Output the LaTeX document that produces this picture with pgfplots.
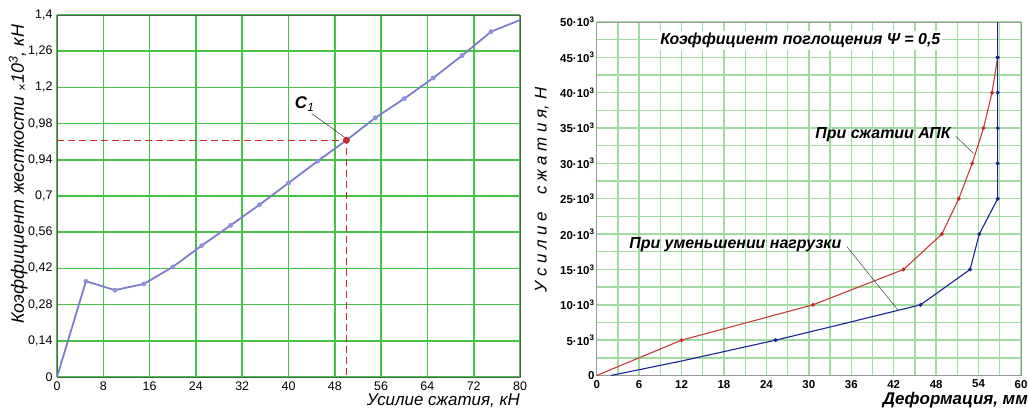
\documentclass[border=0pt]{standalone}
\usepackage{pgfplots}
\pgfplotsset{compat=1.18}
\usepackage{fontspec}
\setmainfont{Liberation Sans}
\definecolor{gridA}{RGB}{70,195,70}
\definecolor{gridB}{RGB}{160,220,160}
\definecolor{lav}{RGB}{125,125,205}
\definecolor{lavm}{RGB}{145,145,225}
\definecolor{redd}{RGB}{205,40,40}
\definecolor{rcurve}{RGB}{200,60,55}
\definecolor{bcurve}{RGB}{25,35,150}
\begin{document}
\begin{tikzpicture}[x=1bp,y=1bp]
% ---------------- left chart ----------------
\begin{axis}[
  at={(57bp,37bp)}, anchor=south west,
  scale only axis, width=463bp, height=362bp,
  xmin=0, xmax=80, ymin=0, ymax=10,
  xtick={0,8,...,80},
  ytick={0,1,...,10},
  yticklabels={0,{0,14},{0,28},{0,42},{0,56},{0,7},{0,94},{0,98},{1,2},{1,26},{1,4}},
  /pgf/number format/assume math mode=true,
  major tick length=0pt,
  grid=major,
  grid style={gridA, line width=1.6bp},
  major grid style={gridA, line width=1.6bp},
  axis line style={black!65, line width=0.8bp},
  ticklabel style={font=\fontsize{12.5}{12.5}\selectfont},
  xticklabel style={yshift=-1bp},
  yticklabel style={xshift=-1bp},
  xlabel={\textit{Усилие сжатия, кН}},
  xlabel style={at={(axis description cs:1,0)}, anchor=north east, inner sep=0pt, yshift=-17bp, font=\fontsize{17}{17}\selectfont},
  ylabel={\textit{Коэффициент жесткости \textsubscript{×}10\textsuperscript{3}, кН}},
  ylabel style={at={(axis description cs:-0.084,0.56)}, anchor=center, inner sep=0pt, font=\fontsize{18}{18}\selectfont},
  clip=false,
]
\addplot[lav, line width=1.8bp] coordinates {
(0,0) (5,2.645) (10,2.40) (15,2.57) (20,3.04) (25,3.63) (30,4.19) (35,4.76) (40,5.36) (45,5.96) (50,6.54) (55,7.16) (60,7.69) (65,8.26) (70,8.88) (75,9.54) (80,9.86)};
\addplot[only marks, mark=*, mark size=2.2bp, lavm, mark options={draw=lavm, fill=lavm}] coordinates {
(5,2.645) (10,2.40) (15,2.57) (20,3.04) (25,3.63) (30,4.19) (35,4.76) (40,5.36) (45,5.96) (55,7.16) (60,7.69) (65,8.26) (70,8.88) (75,9.54)};
\draw[redd, line width=0.8bp, dash pattern=on 7bp off 4bp] (axis cs:0,6.54) -- (axis cs:50,6.54) -- (axis cs:50,0);
\addplot[only marks, mark=*, mark size=3.2bp, mark options={draw=redd, fill=redd}] coordinates {(50,6.54)};
\draw[black!80, line width=0.5bp] (axis cs:44,7.28) -- (axis cs:49.7,6.62);
\node[font=\fontsize{17}{17}\selectfont] at (axis cs:42.8,7.54) {\textbf{\textit{C}}\textsubscript{\textit{1}}};
\end{axis}
% ---------------- right chart ----------------
\begin{axis}[
  at={(596.7bp,38.5bp)}, anchor=south west,
  scale only axis, width=424.3bp, height=353.5bp,
  xmin=0, xmax=60, ymin=0, ymax=50000,
  xtick={0,6,...,60},
  minor xtick={3,9,...,57},
  ytick={0,5000,...,50000},
  minor ytick={2500,7500,...,47500},
  yticklabels={0,{5·10\textsuperscript{3}},{10·10\textsuperscript{3}},{15·10\textsuperscript{3}},{20·10\textsuperscript{3}},{25·10\textsuperscript{3}},{30·10\textsuperscript{3}},{35·10\textsuperscript{3}},{40·10\textsuperscript{3}},{45·10\textsuperscript{3}},{50·10\textsuperscript{3}}},
  scaled y ticks=false,
  /pgf/number format/assume math mode=true,
  major tick length=0pt, minor tick length=0pt,
  grid=both,
  grid style={gridB, line width=1.4bp},
  major grid style={gridB, line width=1.4bp},
  minor grid style={gridB, line width=1.4bp},
  axis line style={black!40, line width=0.8bp},
  ticklabel style={font=\bfseries\fontsize{11.5}{11.5}\selectfont},
  yticklabel style={inner sep=2bp},
  xticklabel style={yshift=-1bp},
  xlabel={\textbf{\textit{Деформация, мм}}},
  xlabel style={at={(axis description cs:1,0)}, anchor=north east, inner sep=0pt, xshift=7bp, yshift=-17bp, font=\fontsize{17}{17}\selectfont},
  ylabel={\textit{У с и л и е\quad с ж а т и я, Н}},
  ylabel style={at={(axis description cs:-0.129,0.525)}, anchor=center, inner sep=0pt, font=\fontsize{17}{17}\selectfont},
  clip=false,
]
\addplot[rcurve, line width=1.1bp] coordinates {
(0,0) (12,5000) (30.6,10000) (43.4,15000) (48.8,20000) (51.2,25000) (53.1,30000) (54.7,35000) (55.9,40000) (56.7,45000)};
\addplot[only marks, mark=*, mark size=1.8bp, mark options={draw=redd, fill=redd}] coordinates {
(12,5000) (30.6,10000) (43.4,15000) (48.8,20000) (51.2,25000) (53.1,30000) (54.7,35000) (55.9,40000) (56.7,45000)};
\addplot[bcurve, line width=1.1bp] coordinates {
(2,0) (12,2050) (25.3,5000) (34,7100) (45.8,10000) (52.8,15000) (54.1,20000) (56.7,25000) (56.7,30000) (56.7,35000) (56.7,40000) (56.7,45000) (56.7,50000)};
\addplot[only marks, mark=*, mark size=1.8bp, mark options={draw=bcurve, fill=bcurve}] coordinates {
(25.3,5000) (45.8,10000) (52.8,15000) (54.1,20000) (56.7,25000) (56.7,30000) (56.7,35000) (56.7,40000) (56.7,45000)};
\node[fill=white, inner sep=2bp, font=\bfseries\itshape\fontsize{16}{16}\selectfont] at (axis cs:28.8,47400) {Коэффициент поглощения Ψ = 0,5};
\node[font=\bfseries\itshape\fontsize{16}{16}\selectfont] at (axis cs:40.5,34000) {При сжатии АПК};
\node[font=\bfseries\itshape\fontsize{16}{16}\selectfont] at (axis cs:19.6,18460) {При уменьшении нагрузки};
\draw[black!75, line width=0.5bp] (axis cs:50.8,33800) -- (axis cs:53.3,31400);
\draw[black!75, line width=0.5bp] (axis cs:35.4,18200) -- (axis cs:42.6,9260);
\end{axis}
\pgfresetboundingbox
\useasboundingbox (0bp,0bp) rectangle (1028bp,414bp);
\end{tikzpicture}
\end{document}
